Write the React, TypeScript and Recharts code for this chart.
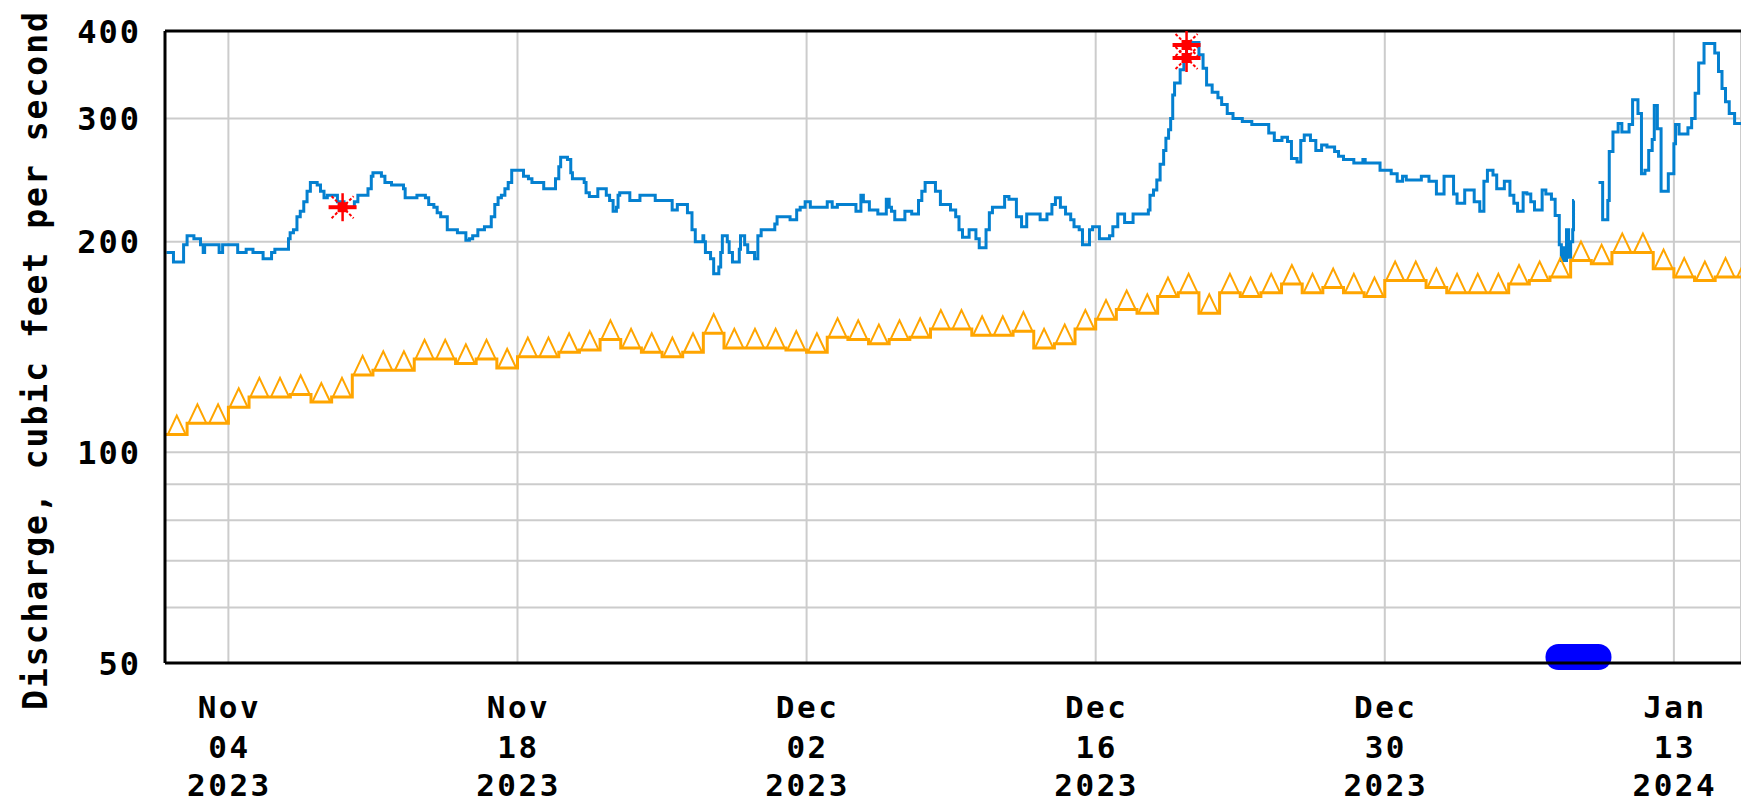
import React from "react"
import { ComposedChart, Line, Scatter, XAxis, YAxis, CartesianGrid, ReferenceLine } from "recharts"

// x is counted in days from Nov 1 2023 00:00
// discharge, [day, cfs] at each change of level; null marks a gap in the record
const dischargePoints: [number, number | null][] = [
  [0.0, 193], [0.34, 187], [0.83, 198], [1.0, 204], [1.33, 202], [1.65, 198], [1.78, 193], [1.85, 198],
  [2.55, 193], [2.72, 198], [3.45, 193], [3.86, 195], [4.19, 193], [4.68, 189], [5.09, 193], [5.25, 195],
  [5.91, 202], [5.99, 206], [6.15, 208], [6.32, 217], [6.48, 221], [6.65, 228], [6.81, 236], [6.97, 243],
  [7.3, 241], [7.46, 236], [7.63, 231], [7.79, 233], [8.28, 228], [8.6, 224], [9.1, 228], [9.27, 233],
  [9.76, 238], [9.92, 248], [10.0, 251], [10.41, 248], [10.58, 243], [10.9, 241], [11.48, 238], [11.56, 231],
  [12.13, 233], [12.54, 231], [12.7, 226], [12.95, 224], [13.11, 220], [13.28, 217], [13.6, 208], [14.09, 206],
  [14.5, 201], [14.67, 202], [14.83, 204], [15.08, 208], [15.4, 210], [15.73, 217], [15.9, 226], [16.06, 231],
  [16.22, 233], [16.39, 238], [16.55, 243], [16.72, 253], [17.29, 248], [17.53, 246], [17.7, 243], [18.27, 238],
  [18.84, 246], [19.0, 256], [19.09, 264], [19.42, 262], [19.58, 251], [19.66, 246], [20.23, 243], [20.32, 235],
  [20.48, 232], [20.89, 238], [21.3, 233], [21.46, 229], [21.63, 221], [21.79, 224], [21.87, 233], [21.95, 235],
  [22.44, 229], [22.93, 233], [23.67, 229], [24.49, 222], [24.74, 226], [25.23, 220],
  [25.45, 208], [25.61, 200], [25.98, 204], [26.02, 200], [26.1, 193], [26.35, 189], [26.5, 180], [26.75, 184],
  [26.84, 193], [26.92, 204], [27.16, 200], [27.25, 193], [27.41, 187], [27.74, 195], [27.8, 204], [28.0, 198],
  [28.15, 193], [28.48, 189], [28.64, 204], [28.8, 208], [29.46, 212], [29.57, 217], [30.2, 215], [30.52, 222],
  [30.69, 224], [30.93, 228], [31.18, 224], [32.0, 228], [32.24, 224], [32.49, 226], [33.39, 221], [33.63, 233],
  [33.75, 228], [34.04, 222], [34.45, 219], [34.86, 230], [35.0, 224], [35.11, 221], [35.27, 215], [35.76, 221],
  [36.09, 219], [36.42, 229], [36.58, 236], [36.74, 243], [37.24, 236], [37.48, 226], [37.97, 222], [38.22, 217],
  [38.38, 208], [38.55, 203], [38.87, 208], [39.2, 202], [39.36, 196], [39.69, 208], [39.85, 220], [40.0, 224],
  [40.59, 232], [40.8, 230], [41.16, 217], [41.41, 210], [41.66, 219], [42.31, 215], [42.64, 219], [42.88, 226],
  [43.05, 231], [43.29, 224], [43.54, 219], [43.79, 215], [43.95, 210], [44.2, 208], [44.36, 198], [44.7, 208],
  [44.85, 210], [45.18, 202], [45.67, 204], [45.83, 210], [46.07, 219], [46.4, 213], [46.81, 219], [47.55, 222],
  [47.63, 233], [47.8, 237], [47.96, 245], [48.12, 258], [48.29, 270], [48.4, 281], [48.53, 289], [48.63, 300],
  [48.73, 324], [48.82, 337], [49.09, 352], [49.27, 370], [49.4, 385], [50.0, 370], [50.2, 354], [50.37, 335],
  [50.64, 327], [50.92, 321], [51.1, 314], [51.37, 305], [51.65, 300], [52.1, 297], [52.56, 294], [53.38, 286],
  [53.65, 279], [54.02, 282], [54.29, 278], [54.48, 263], [54.75, 260], [54.93, 279], [55.1, 284], [55.4, 279],
  [55.66, 270], [55.94, 275], [56.2, 273], [56.57, 269], [56.76, 265], [57.0, 262], [57.5, 259], [57.94, 262],
  [58.05, 259], [58.77, 253], [59.31, 250], [59.6, 244], [59.86, 248], [60.04, 245], [60.77, 248], [61.14, 244],
  [61.5, 234], [61.87, 248], [62.33, 234], [62.5, 227], [62.87, 237], [63.33, 228], [63.6, 221], [63.8, 244],
  [63.97, 253], [64.24, 249], [64.42, 238], [64.79, 244], [65.06, 233], [65.25, 227], [65.43, 221], [65.7, 235],
  [65.88, 234], [66.07, 228], [66.25, 222], [66.62, 237], [66.8, 234], [67.07, 230], [67.25, 218], [67.45, 198],
  [67.55, 188], [67.65, 196], [67.72, 188], [67.8, 208], [67.9, 190], [68.0, 200], [68.1, 208], [68.14, 229],
  [68.16, 229], [68.2, null],
  [69.35, 243], [69.55, 215], [69.8, 229], [69.87, 269], [70.05, 287], [70.3, 295], [70.48, 287], [70.83, 294],
  [71.0, 319], [71.26, 305], [71.43, 250], [71.6, 253], [71.78, 270], [71.95, 280], [72.05, 313], [72.2, 290],
  [72.38, 236], [72.73, 250], [73.0, 276], [73.08, 294], [73.25, 285], [73.68, 291], [73.86, 300], [74.03, 326],
  [74.2, 360], [74.46, 384], [74.98, 372], [75.16, 350], [75.33, 331], [75.5, 317], [75.68, 305], [75.94, 295],
  [76.25, 295],
]

// daily median, Oct 31 .. Jan 16
const medianStartDay = -1
const medianValues = [
  106, 106, 110, 110, 116, 120, 120, 121, 118, 120, 129, 131, 131, 136, 136, 134, 136, 132, 137, 137,
  139, 140, 145, 141, 139, 137, 139, 148, 141, 141, 141, 140, 139, 146, 145, 143, 145, 146, 150, 150,
  147, 147, 149, 141, 143, 150, 155, 160, 158, 167, 169, 158, 169, 167, 169, 174, 169, 172, 169, 167,
  176, 176, 172, 169, 169, 169, 174, 176, 178, 188, 186, 193, 193, 183, 178, 176, 178, 178,
]

// field measurements
const measuredPoints: [number, number][] = [[8.53, 224], [49.4, 382], [49.4, 366]]

// qualifier bar under the gap
const flagPoints: [number, number][] = [[67.41, 51], [69.35, 51]]

const yTicks = [50, 60, 70, 80, 90, 100, 200, 300, 400]
const yLabels = [50, 100, 200, 300, 400]
const xTicks = [3, 17, 31, 45, 59, 73]
const xTickMonth = ["Nov", "Nov", "Dec", "Dec", "Dec", "Jan"]
const xTickDay = ["04", "18", "02", "16", "30", "13"]
const xTickYear = ["2023", "2023", "2023", "2023", "2023", "2024"]

const dischargeData = dischargePoints.map(([day, v]) => ({ day, v }))
const medianData = medianValues.map((v, i) => ({ day: medianStartDay + i + 0.5, v }))
const measuredData = measuredPoints.map(([day, v]) => ({ day, v }))
const flagData = flagPoints.map(([day, v]) => ({ day, v }))

const font = "'DejaVu Sans Mono', monospace"

const DateTick = (props: any) => {
  const { x, y, payload } = props
  const i = xTicks.indexOf(payload.value)
  if (i < 0) return null
  const style = { fontFamily: font, fontWeight: 700, fontSize: 31, letterSpacing: 2.5 }
  return (
    <g fill="#000">
      <text x={x + 1} y={y + 55} textAnchor="middle" style={style}>{xTickMonth[i]}</text>
      <text x={x + 1} y={y + 95} textAnchor="middle" style={style}>{xTickDay[i]}</text>
      <text x={x + 1} y={y + 133} textAnchor="middle" style={style}>{xTickYear[i]}</text>
    </g>
  )
}

const ValueTick = (props: any) => {
  const { x, y, payload } = props
  if (!yLabels.includes(payload.value)) return <g />
  return (
    <text x={x - 24} y={y + 11.5} textAnchor="end" fill="#000"
      style={{ fontFamily: font, fontWeight: 700, fontSize: 32, letterSpacing: 2 }}>
      {payload.value}
    </text>
  )
}

const renderMedianDot = (props: any) => {
  const { cx, cy, payload, index } = props
  if (payload.day < 0 || cx == null || cy == null) return <g key={`m${index}`} />
  return (
    <path key={`m${index}`} d={`M${cx - 9},${cy} L${cx},${cy - 19} L${cx + 9},${cy}`}
      fill="none" stroke="#ffa500" strokeWidth={2} />
  )
}

const renderStar = (props: any) => {
  const { cx, cy } = props
  const r = 14
  const d = 11
  return (
    <g stroke="#ff0000" fill="#ff0000">
      <line x1={cx - r} y1={cy} x2={cx + r} y2={cy} strokeWidth={4} />
      <line x1={cx} y1={cy - r} x2={cx} y2={cy + r} strokeWidth={2.5} />
      <line x1={cx - d} y1={cy - d} x2={cx + d} y2={cy + d} strokeWidth={2} strokeDasharray="3 2" />
      <line x1={cx - d} y1={cy + d} x2={cx + d} y2={cy - d} strokeWidth={2} strokeDasharray="3 2" />
      <rect x={cx - 5} y={cy - 5} width={10} height={10} stroke="none" />
    </g>
  )
}

const App = () => {
  return (
    <div style={{ position: "fixed", left: 0, top: 0, width: 1741, height: 804, background: "#fff", overflow: "hidden" }}>
      <ComposedChart width={1741} height={804} margin={{ top: 31, right: 0, bottom: 0, left: 0 }}>
        <CartesianGrid stroke="#cccccc" strokeWidth={2} />
        <XAxis
          type="number"
          dataKey="day"
          domain={[-0.07, 76.25]}
          allowDataOverflow
          ticks={xTicks}
          tick={<DateTick />}
          tickLine={false}
          tickSize={0}
          tickMargin={0}
          height={141}
          axisLine={{ stroke: "#000", strokeWidth: 3 }}
        />
        <YAxis
          scale="log"
          domain={[50, 400]}
          ticks={yTicks}
          interval={0}
          tick={<ValueTick />}
          tickLine={false}
          tickSize={0}
          tickMargin={0}
          width={165}
          axisLine={{ stroke: "#000", strokeWidth: 3 }}
        />
        <ReferenceLine y={400} stroke="#000" strokeWidth={3} />
        <Line data={medianData} dataKey="v" type="step" stroke="#ffa500" strokeWidth={3}
          dot={renderMedianDot} activeDot={false} isAnimationActive={false} />
        <Line data={dischargeData} dataKey="v" type="stepAfter" stroke="#0480d0" strokeWidth={3}
          dot={false} activeDot={false} isAnimationActive={false} />
        <Line data={flagData} dataKey="v" type="linear" stroke="#0000ff" strokeWidth={26} strokeLinecap="round"
          dot={false} activeDot={false} isAnimationActive={false} />
        <Scatter data={measuredData} dataKey="v" shape={renderStar} isAnimationActive={false} />
      </ComposedChart>
      <svg width={1741} height={804} style={{ position: "absolute", left: 0, top: 0, pointerEvents: "none" }}>
        <text x={47} y={360} transform="rotate(-90, 47, 360)" textAnchor="middle" fill="#000"
          style={{ fontFamily: font, fontWeight: 700, fontSize: 33, letterSpacing: 2 }}>
          Discharge, cubic feet per second
        </text>
      </svg>
    </div>
  )
}

export default App
